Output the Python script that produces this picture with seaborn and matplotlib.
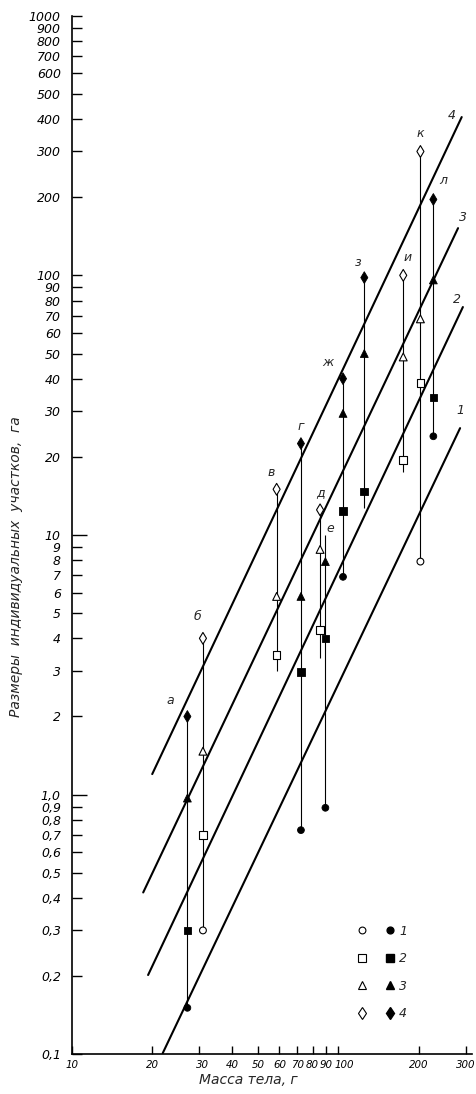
import numpy as np
import pandas as pd
import matplotlib
matplotlib.use("Agg")
import matplotlib.pyplot as plt
import seaborn as sns
from matplotlib.lines import Line2D
from matplotlib.legend_handler import HandlerTuple
from matplotlib.ticker import FixedLocator, FuncFormatter
from matplotlib.transforms import ScaledTranslation

nan = np.nan

# ---- data ----
species = ["а", "б", "в", "г", "д", "е", "ж", "з", "и", "к", "л"]
mass = [27.1, 31.0, 58.6, 72.3, 85.3, 89.3, 104, 125, 175, 203, 227]
filled = [True, False, False, True, False, True, True, True, False, False, True]
size_1 = [0.151, 0.30, nan, 0.73, nan, 0.89, 6.9, nan, nan, 7.9, 24.0]
size_2 = [0.30, 0.70, 3.45, 2.97, 4.3, 4.0, 12.4, 14.7, 19.4, 38.4, 33.9]
size_3 = [0.97, 1.47, 5.8, 5.8, 8.8, 7.9, 29.4, 50.0, 48.5, 68.0, 96.0]
size_4 = [2.0, 4.0, 15.0, 22.5, 12.5, nan, 40.0, 98.0, 100.0, 300.0, 196.0]
range_low = [0.151, 0.30, 3.0, 0.73, 3.37, 0.89, 6.9, 12.7, 17.5, 7.9, 24.0]
range_high = [2.0, 4.0, 15.0, 22.5, 12.5, 10.0, 40.0, 98.0, 100.0, 300.0, 196.0]

line_names = ["1", "2", "3", "4"]
line_mass_start = [21.9, 19.3, 18.5, 20.0]
line_mass_end = [286, 293, 281, 290]
line_area_start = [0.101, 0.202, 0.42, 1.2]
line_area_end = [25.8, 75.5, 152, 407]

category_names = ["1", "2", "3", "4"]

xtick_values = [10, 20, 30, 40, 50, 60, 70, 80, 90, 100, 200, 300]
ytick_values = [0.1, 0.2, 0.3, 0.4, 0.5, 0.6, 0.7, 0.8, 0.9, 1, 2, 3, 4, 5, 6, 7, 8, 9,
                10, 20, 30, 40, 50, 60, 70, 80, 90, 100, 200, 300, 400, 500, 600,
                700, 800, 900, 1000]
ytick_major = [1, 10]

# ---- styles (layout only) ----
letter_offsets_px = {"а": (-17, 16), "б": (-5, 22), "в": (-5, 17), "г": (0, 17),
                     "д": (0, 17), "е": (5, 6), "ж": (-15, 16), "з": (-6, 15),
                     "и": (4, 18), "к": (0, 18), "л": (10, 19)}
line_label_offsets_px = {"1": (0, 18), "2": (-6, 8), "3": (5, 11), "4": (-10, 2)}
xlabel_shift_px = {30: 3, 100: 6}
marker_map = {"1": "o", "2": "s", "3": "^", "4": "d"}
size_map = {"1": 24, "2": 30, "3": 32, "4": 36}

# ---- build tables ----
rows = []
for i, sp in enumerate(species):
    for cat, vals in zip(category_names, [size_1, size_2, size_3, size_4]):
        v = vals[i]
        if not np.isnan(v):
            rows.append({"species": sp, "mass": mass[i], "area": v,
                         "category": cat, "filled": filled[i]})
points = pd.DataFrame(rows)
ranges = pd.DataFrame({"species": species, "mass": mass,
                       "low": range_low, "high": range_high})
lines = pd.DataFrame({
    "line": line_names * 2,
    "mass": line_mass_start + line_mass_end,
    "area": line_area_start + line_area_end,
})

sns.set_style("ticks")
plt.rcParams["font.family"] = ["DejaVu Sans"]
plt.rcParams["font.style"] = "italic"

W, H = 476, 1094
fig = plt.figure(figsize=(W / 100, H / 100), dpi=100)
ax_left, ax_right, ax_top, ax_bottom = 72, 472, 15.7, 1054.3
ax = fig.add_axes([ax_left / W, 1 - ax_bottom / H, (ax_right - ax_left) / W,
                   (ax_bottom - ax_top) / H])
ax.set_xscale("log")
ax.set_yscale("log")
ax.set_xlim(10, 317)
ax.set_ylim(0.1, 1000)

# regression lines
sns.lineplot(data=lines, x="mass", y="area", units="line", estimator=None,
             color="black", linewidth=1.5, ax=ax, legend=False, sort=False)

# vertical ranges
ax.vlines(ranges["mass"], ranges["low"], ranges["high"], color="black",
          linewidth=0.8, zorder=2)

# markers
pf = points[points["filled"]]
po = points[~points["filled"]]
sns.scatterplot(data=pf, x="mass", y="area", style="category", size="category",
                markers=marker_map, sizes=size_map, color="black",
                edgecolor="black", linewidth=0.6, legend=False, ax=ax, zorder=4)
sns.scatterplot(data=po, x="mass", y="area", style="category", size="category",
                markers=marker_map, sizes=size_map, color="white",
                edgecolor="black", linewidth=0.8, legend=False, ax=ax, zorder=4)

# species letters
for sp, m, hi in zip(species, mass, range_high):
    dx, dy = letter_offsets_px[sp]
    ax.annotate(sp, (m, hi), xytext=(dx * 0.72, dy * 0.72),
                textcoords="offset points", ha="center", va="center",
                fontsize=9)

# line labels
for name, m, a in zip(line_names, line_mass_end, line_area_end):
    dx, dy = line_label_offsets_px[name]
    ax.annotate(name, (m, a), xytext=(dx * 0.72, dy * 0.72),
                textcoords="offset points", ha="center", va="center",
                fontsize=9)

# axes styling
sns.despine(ax=ax)
for s in ["left", "bottom"]:
    ax.spines[s].set_linewidth(1.2)
    ax.spines[s].set_color("black")


def yfmt(v, pos):
    if v < 0.95:
        return f"{v:.1f}".replace(".", ",")
    if abs(v - 1) < 1e-6:
        return "1,0"
    return f"{v:g}"


ax.yaxis.set_major_locator(FixedLocator(ytick_major))
ax.yaxis.set_minor_locator(FixedLocator([v for v in ytick_values if v not in ytick_major]))
ax.yaxis.set_major_formatter(FuncFormatter(yfmt))
ax.yaxis.set_minor_formatter(FuncFormatter(yfmt))
ax.tick_params(axis="y", which="major", direction="in", length=11, width=1.0,
               pad=8, labelsize=9, colors="black")
ax.tick_params(axis="y", which="minor", direction="in", length=7.5, width=1.0,
               pad=8, labelsize=9, colors="black")

ax.xaxis.set_major_locator(FixedLocator(xtick_values))
ax.xaxis.set_minor_locator(FixedLocator([]))
ax.xaxis.set_major_formatter(FuncFormatter(lambda v, p: f"{v:g}"))
ax.tick_params(axis="x", which="major", direction="in", length=6, width=1.0,
               pad=4, labelsize=7.4, colors="black")
for tick, val in zip(ax.xaxis.get_major_ticks(), xtick_values):
    if val in xlabel_shift_px:
        lab = tick.label1
        lab.set_transform(lab.get_transform() +
                          ScaledTranslation(xlabel_shift_px[val] / 100, 0,
                                            fig.dpi_scale_trans))

ax.set_xlabel("Масса тела, г", fontsize=10)
ax.set_ylabel("Размеры  индивидуальных  участков,  га", fontsize=10)
ax.xaxis.set_label_coords((248 - ax_left) / (ax_right - ax_left),
                          (ax_bottom - 1073) / (ax_bottom - ax_top))
ax.yaxis.set_label_coords((23 - ax_left) / (ax_right - ax_left),
                          (ax_bottom - 567) / (ax_bottom - ax_top))

# legend
handles = []
for cat in category_names:
    mk = marker_map[cat]
    ms = np.sqrt(size_map[cat])
    h_open = Line2D([], [], linestyle="none", marker=mk, markersize=ms,
                    markerfacecolor="white", markeredgecolor="black",
                    markeredgewidth=0.8)
    h_fill = Line2D([], [], linestyle="none", marker=mk, markersize=ms,
                    markerfacecolor="black", markeredgecolor="black")
    handles.append((h_open, h_fill))
ax.legend(handles, category_names, handler_map={tuple: HandlerTuple(ndivide=None, pad=1.556)},
          handlelength=3, handletextpad=0.36, labelspacing=1.17, fontsize=9,
          frameon=False, loc="center",
          bbox_to_anchor=(382 / W, 1 - 972.5 / H), bbox_transform=fig.transFigure)

fig.savefig("out.png", dpi=100)
